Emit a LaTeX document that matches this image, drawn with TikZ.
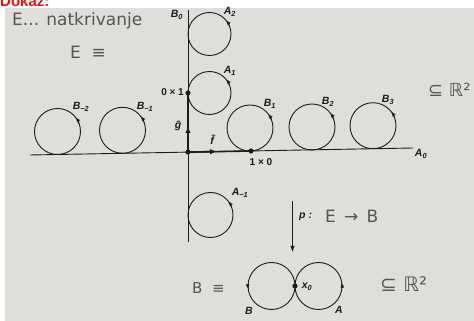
\documentclass[tikz,border=0pt]{standalone}
\usepackage{fontspec}
\setmainfont{Liberation Sans}
\newfontfamily\hand{DejaVu Sans}
\usetikzlibrary{arrows.meta,calc}
\definecolor{paper}{RGB}{222,222,219}
\definecolor{ink}{RGB}{28,28,28}
\definecolor{pencil}{RGB}{85,85,85}
\definecolor{redt}{RGB}{232,20,20}
\begin{document}
\begin{tikzpicture}[x=1pt,y=1pt,
  lab/.style={font=\fontsize{10.5}{12}\selectfont\bfseries\itshape, text=ink, inner sep=0},
  num/.style={font=\fontsize{10}{12}\selectfont\bfseries, text=ink, inner sep=0},
  hw/.style={font=\hand\fontsize{17}{19}\selectfont, text=pencil, inner sep=0},
  hwsm/.style={font=\hand\fontsize{15}{17}\selectfont, text=pencil, inner sep=0},
  hwbig/.style={font=\hand\fontsize{18}{20}\selectfont, text=pencil, inner sep=0},
  loopc/.style={circle, draw=ink, line width=0.9pt, inner sep=0, outer sep=0, minimum size=#1},
  axisline/.style={draw=ink, line width=0.9pt},
  thickax/.style={draw=ink, line width=1.6pt},
  tipst/.style={draw=ink, line width=0.9pt, -{Latex[length=5pt,width=4pt]}},
  dot/.style={fill=ink}
]
\useasboundingbox (0,0) rectangle (474,321);
\clip (0,0) rectangle (474,321);
\fill[white] (0,0) rectangle (474,321);
\fill[paper] (5,0) rectangle (474,313);
\node[anchor=base west, text=redt, font=\fontsize{15}{17}\selectfont\bfseries, inner sep=0] (dokaz) at (0,314) {Dokaz:};

% handwritten texts
\node[hw, anchor=west] (hE) at (12,300) {E... natkrivanje};
\node[hw, anchor=west] (hEeq) at (70,269) {E \ ≡};
\node[hwbig, anchor=west] (hR1) at (428,231) {⊆ ℝ²};
\node[hwsm, anchor=west] (hBeq) at (192,33) {B \ ≡};
\node[font=\hand\fontsize{20}{22}\selectfont, text=pencil, inner sep=0, anchor=west] (hR2) at (380,37) {⊆ ℝ²};

% axes
\coordinate (L) at (30,166);
\coordinate (R) at (413,173);
\coordinate (O) at (188,168.9);
\coordinate (VT) at (188,311);
\coordinate (VB) at (188,79);
\coordinate (P01) at (188,228);
\coordinate (P10) at (251,170);
\coordinate (gT) at (188,195);
\coordinate (fT) at (217,169.5);
\draw[axisline] (L) -- (R);
\draw[axisline] (VB) -- (VT);
\draw[thickax] (O) -- (P01);
\draw[thickax] (O) -- (P10);
\draw[thickax, -{Latex[length=7pt,width=5.5pt]}] (O) -- (gT);
\draw[thickax, -{Latex[length=7pt,width=5.5pt]}] (O) -- (fT);
\fill[dot] (O) circle (2.6);
\fill[dot] (P01) circle (2.6);
\fill[dot] (P10) circle (2.6);

% horizontal loops
\node[loopc=46pt] (Bm2) at (57.5,189.5) {};
\node[loopc=46pt] (Bm1) at (122.5,190.7) {};
\node[loopc=46pt] (B1) at (250,193) {};
\node[loopc=46pt] (B2) at (312,194) {};
\node[loopc=46pt] (B3) at (373,195.3) {};
\foreach \c in {Bm2,Bm1,B1,B2,B3}
  \draw[tipst] (\c.20) arc[start angle=20, end angle=38, radius=23];

% vertical loops
\node[loopc=43pt] (A2) at (209.5,287) {};
\node[loopc=43pt] (A1) at (209.5,228) {};
\node[loopc=45pt] (Am1) at (210.5,106) {};
\draw[tipst] (A2.22) arc[start angle=22, end angle=40, radius=21.5];
\draw[tipst] (A1.22) arc[start angle=22, end angle=40, radius=21.5];
\draw[tipst] (Am1.20) arc[start angle=20, end angle=38, radius=22.5];

% labels
\node[lab] (lB0) at (177,306) {B\textsubscript{0}};
\node[lab] (lA2) at (230,309) {A\textsubscript{2}};
\node[lab] (lA1) at (230,250) {A\textsubscript{1}};
\node[lab] (lAm1) at (240,128) {A\textsubscript{−1}};
\node[lab] (lA0) at (421,167) {A\textsubscript{0}};
\node[lab] (lBm2) at (81,214) {B\textsubscript{−2}};
\node[lab] (lBm1) at (145,214) {B\textsubscript{−1}};
\node[lab] (lB1) at (270,217) {B\textsubscript{1}};
\node[lab] (lB2) at (328,219) {B\textsubscript{2}};
\node[lab] (lB3) at (388,221) {B\textsubscript{3}};
\node[num, anchor=east] (l01) at (184,229) {0 × 1};
\node[num] (l10) at (261,159) {1 × 0};
\node[lab] (lg) at (178,195) {\~{g}};
\node[lab] (lf) at (212,181) {\~{f}};

% projection p
\coordinate (pT) at (292.5,120);
\coordinate (pB) at (292.5,69);
\draw[axisline, -{Latex[length=6pt,width=4.5pt]}] (pT) -- (pB);
\node[lab, anchor=west] (lp) at (299,104) {p :};
\node[hw, anchor=west] (lEB) at (325,105) {E\, → \,B};

% base figure eight
\node[loopc=47pt] (cB) at (271.5,35) {};
\node[loopc=47pt] (cA) at (318.5,35) {};
\coordinate (x0) at (295,35);
\fill[dot] (x0) circle (2.6);
\draw[tipst] (cB.175) arc[start angle=175, end angle=188, radius=23.5];
\draw[tipst] (cA.355) arc[start angle=-5, end angle=8, radius=23.5];
\node[lab] (lx0) at (307,34) {x\textsubscript{0}};
\node[lab] (lBB) at (249,10) {B};
\node[lab] (lAA) at (339,11) {A};
\end{tikzpicture}
\end{document}
